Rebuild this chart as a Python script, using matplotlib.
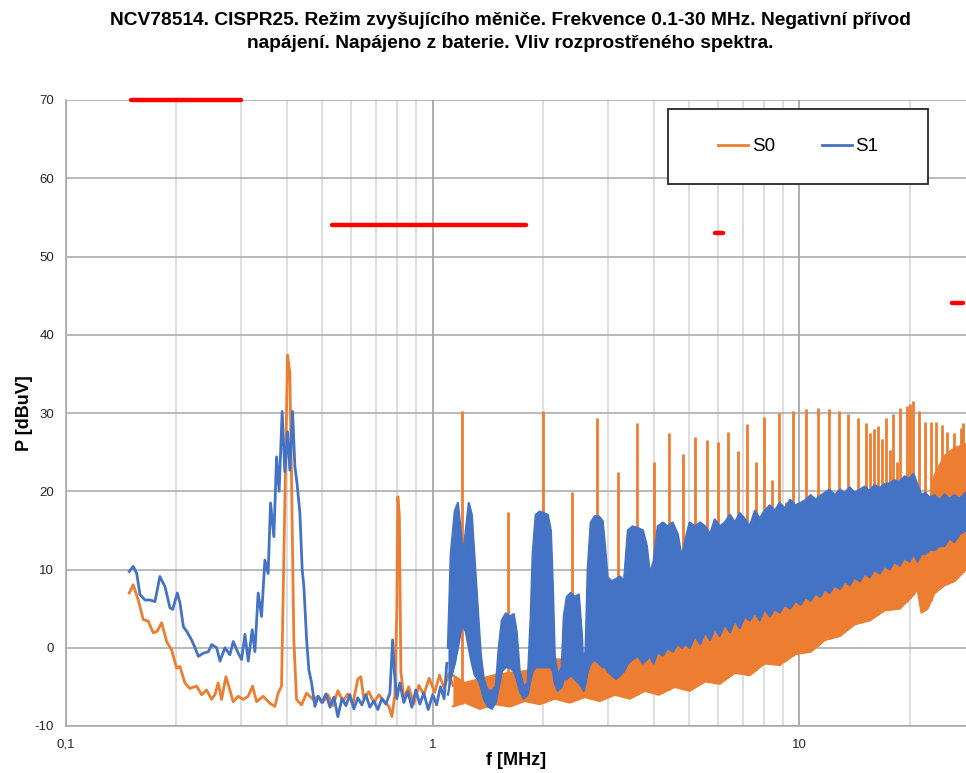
import numpy as np
import matplotlib
matplotlib.use('Agg')
import matplotlib.pyplot as plt
from matplotlib.patches import Rectangle

plt.rcParams['font.family'] = ['Liberation Sans', 'DejaVu Sans']

title = ("NCV78514. CISPR25. Režim zvyšujícího měniče. Frekvence 0.1-30 MHz. Negativní přívod\n"
         "napájení. Napájeno z baterie. Vliv rozprostřeného spektra.")
xlabel = "f [MHz]"
ylabel = "P [dBuV]"
series_names = ["S0", "S1"]

# CISPR25 limit segments
limit_f_start = [0.15, 0.53, 5.9, 26.0]
limit_f_end = [0.30, 1.8, 6.2, 28.0]
limit_level = [70, 54, 53, 44]

# S0 (orange) - traced line, low frequency part
s0_f = [0.1488, 0.1525, 0.1574, 0.1624, 0.1676, 0.1729, 0.1773, 0.1823, 0.1881, 0.1941,
        0.2003, 0.2045, 0.2110, 0.2177, 0.2271, 0.2343, 0.2418, 0.2495, 0.2547, 0.2600,
        0.2656, 0.2729, 0.2798, 0.2857, 0.2948, 0.3042, 0.3138, 0.3227, 0.3308, 0.3448,
        0.3596, 0.3711, 0.3789, 0.3870, 0.3934, 0.4019, 0.4077, 0.4121, 0.4181, 0.4252,
        0.4388, 0.4527, 0.4719, 0.4870, 0.5016, 0.5181, 0.5345, 0.5511, 0.5691, 0.5871,
        0.6055, 0.6248, 0.6366, 0.6488, 0.6693, 0.6908, 0.7133, 0.7358, 0.7592, 0.7738,
        0.7883, 0.7981, 0.8031, 0.8108, 0.8186, 0.8340, 0.8598, 0.8879, 0.9163, 0.9453,
        0.9778, 1.0123, 1.0432, 1.0741, 1.1058, 1.1345]
s0_db = [7.0, 8.05, 6.1, 3.6, 3.4, 1.9, 2.1, 3.2, 0.8, -0.3,
         -2.6, -2.4, -4.5, -5.2, -4.9, -6.0, -5.4, -6.6, -6.0, -4.5,
         -6.6, -3.7, -5.4, -6.9, -6.2, -6.6, -6.2, -4.9, -6.9, -6.2,
         -7.1, -7.5, -5.8, -4.9, 13.8, 37.4, 35.1, 21.5, 1.0, -6.6,
         -7.3, -5.8, -6.6, -6.2, -7.0, -6.0, -7.4, -5.5, -6.8, -5.9,
         -7.2, -4.0, -3.7, -6.5, -5.6, -7.0, -6.0, -6.8, -7.5, -8.8,
         -6.0, 5.0, 19.3, 17.0, -3.0, -6.5, -5.0, -7.2, -4.8, -6.0,
         -3.9, -5.7, -3.5, -5.2, -3.3, -4.8]

# S0 dense part: envelope (lower / upper) of the fast-oscillating trace
s0_band_f = [1.135, 1.223, 1.344, 1.476, 1.622, 1.781, 1.957, 2.151, 2.361, 2.595,
             2.853, 3.140, 3.445, 3.789, 4.134, 4.568, 5.017, 5.533, 6.057, 6.667,
             7.321, 8.032, 8.830, 9.747, 10.731, 11.728, 12.890, 14.131, 15.540, 17.074,
             18.750, 20.2, 20.987, 21.513, 22.332, 23.348, 24.859, 26.458, 28.4]
s0_band_lo = [-7.5, -7.0, -7.8, -7.2, -7.5, -6.8, -7.2, -6.5, -7.0, -6.3,
              -6.8, -6.0, -6.5, -5.5, -6.0, -5.0, -5.5, -4.3, -4.6, -3.2,
              -3.5, -2.0, -2.2, -0.8, -0.5, 1.0, 1.5, 3.0, 3.5, 4.8,
              5.0, 6.5, 7.5, 4.5, 5.0, 7.0, 8.0, 8.5, 10.0]
s0_band_hi = [-3.5, -4.5, -4.0, -3.5, -3.2, -3.0, -2.5, -1.5, -1.5, -1.0,
              -0.5, 0.0, 1.0, 1.5, 2.0, 3.0, 3.5, 4.5, 5.0, 5.5,
              6.5, 7.0, 7.5, 8.5, 9.0, 10.0, 11.0, 11.5, 12.5, 13.5,
              14.0, 15.0, 15.5, 14.0, 16.0, 22.0, 24.5, 25.5, 26.0]

# S0 harmonic peaks (0.4 MHz switching frequency)
s0_peak_f = [1.2, 1.6, 2.0, 2.4, 2.8, 3.2, 3.6, 4.0, 4.4, 4.8,
             5.2, 5.6, 6.0, 6.4, 6.8, 7.2, 7.6, 8.0, 8.4, 8.8,
             9.2, 9.6, 10.4, 11.2, 12.0, 12.8, 13.6, 14.4, 15.2, 15.6,
             16.0, 16.4, 16.8, 17.2, 17.6, 18.0, 18.4, 18.8, 19.6, 20.0,
             20.4, 21.2, 22.0, 22.8, 23.6, 24.4, 25.2, 26.4, 27.6, 28.0]
s0_peak_db = [30.2, 17.4, 30.2, 19.9, 29.4, 22.4, 28.7, 23.8, 27.4, 24.8,
              26.9, 26.5, 26.3, 27.6, 25.2, 28.6, 23.8, 29.5, 21.4, 30.0,
              18.6, 30.3, 30.5, 30.7, 30.5, 30.3, 29.9, 29.4, 28.7, 27.4,
              27.9, 28.4, 26.7, 29.3, 25.3, 29.9, 23.7, 30.6, 30.9, 31.1,
              31.5, 30.2, 28.8, 28.9, 28.8, 28.5, 27.6, 27.4, 28.1, 28.7]

# S1 (blue) - traced line, low frequency part
s1_f = [0.1488, 0.1525, 0.1559, 0.1591, 0.1642, 0.1694, 0.1748, 0.1803, 0.1862, 0.1921,
        0.1954, 0.2011, 0.2046, 0.2089, 0.2134, 0.2200, 0.2248, 0.2296, 0.2368, 0.2444,
        0.2497, 0.2575, 0.2629, 0.2713, 0.2798, 0.2858, 0.2949, 0.3012, 0.3076, 0.3140,
        0.3219, 0.3274, 0.3342, 0.3413, 0.3486, 0.3558, 0.3612, 0.3688, 0.3751, 0.3812,
        0.3885, 0.3951, 0.4018, 0.4078, 0.4148, 0.4208, 0.4270, 0.4343, 0.4406, 0.4453,
        0.4530, 0.4594, 0.4674, 0.4771, 0.4871, 0.4985, 0.5115, 0.5247, 0.5378, 0.5511,
        0.5655, 0.5799, 0.5942, 0.6094, 0.6248, 0.6409, 0.6571, 0.6739, 0.6908, 0.7083,
        0.7266, 0.7450, 0.7641, 0.7772, 0.7859, 0.7981, 0.8134, 0.8340, 0.8549, 0.8769,
        0.8989, 0.9221, 0.9453, 0.9722, 1.0, 1.0247, 1.0494, 1.0741, 1.0926]
s1_db = [9.75, 10.4, 9.5, 6.8, 6.1, 6.1, 5.9, 9.1, 7.8, 5.1,
         4.9, 7.0, 5.7, 2.7, 2.1, 1.0, 0.0, -1.1, -0.7, -0.5,
         0.4, 0.0, -1.7, 0.0, -0.9, 0.8, -0.7, -1.5, 1.7, -1.7,
         2.3, -0.5, 7.0, 4.0, 11.2, 9.5, 18.5, 14.2, 24.4, 20.0,
         30.2, 22.5, 27.6, 22.7, 30.2, 23.2, 20.8, 17.2, 10.0, 7.8,
         1.0, -2.8, -4.5, -7.5, -6.2, -7.0, -5.9, -7.6, -6.3, -8.8,
         -6.5, -7.4, -6.0, -7.8, -6.4, -7.3, -6.0, -7.6, -6.8, -7.9,
         -6.5, -7.2, -5.8, 1.0, -3.0, -6.5, -4.5, -7.0, -5.6, -7.6,
         -5.4, -7.2, -5.8, -7.9, -6.0, -7.3, -5.0, -6.5, -2.0]

# S1 dense (spread spectrum) part: envelope of the fast-oscillating trace
s1_band_f = [1.10, 1.120, 1.149, 1.171, 1.192, 1.207, 1.231, 1.254, 1.278, 1.302,
             1.327, 1.353, 1.378, 1.413, 1.449, 1.485, 1.514, 1.543, 1.582, 1.622,
             1.663, 1.694, 1.726, 1.770, 1.815, 1.850, 1.873, 1.909, 1.957, 2.007,
             2.059, 2.099, 2.125, 2.151, 2.191, 2.248, 2.277, 2.320, 2.378, 2.439,
             2.502, 2.548, 2.580, 2.612, 2.646, 2.697, 2.764, 2.835, 2.907, 2.962,
             2.998, 3.079, 3.161, 3.242, 3.323, 3.405, 3.507, 3.624, 3.742, 3.836,
             3.906, 4.0, 4.107, 4.241, 4.374, 4.509, 4.658, 4.777, 4.896, 5.017,
             5.189, 5.361, 5.533, 5.704, 5.876, 6.057, 6.260, 6.463, 6.667, 6.870,
             7.085, 7.321, 7.557, 7.792, 8.032, 8.298, 8.564, 8.830, 9.114, 9.430,
             9.747, 10.066, 10.399, 10.731, 11.063, 11.395, 11.728, 12.073, 12.482, 12.890,
             13.298, 13.706, 14.131, 14.601, 15.070, 15.540, 16.009, 16.543, 17.074, 17.606,
             18.155, 18.750, 19.345, 19.940, 20.461, 20.987, 21.513, 22.043, 22.623, 23.348,
             24.078, 24.859, 25.640, 26.458, 27.305, 28.4]
s1_band_lo = [-6.0, -4.0, -2.0, 0.0, 2.0, 3.0, 2.0, 0.0, -2.0, -3.5,
              -4.0, -5.0, -6.5, -7.5, -7.8, -7.0, -5.0, -3.0, -2.5, -2.5,
              -3.0, -4.0, -5.5, -6.5, -6.0, -4.0, -3.0, -2.5, -2.5, -2.5,
              -2.5, -2.5, -3.0, -4.5, -5.5, -5.0, -4.0, -4.0, -3.5, -4.0,
              -4.5, -5.0, -5.5, -4.5, -3.0, -2.0, -1.5, -2.0, -2.5, -2.5,
              -3.0, -3.5, -4.0, -3.5, -3.0, -2.0, -1.5, -1.0, -2.0, -1.5,
              -1.0, -2.0, -0.5, -1.0, 0.0, -0.5, 0.5, 0.0, 0.5, 0.0,
              1.5, 0.5, 2.0, 1.0, 2.5, 1.5, 3.0, 2.0, 3.5, 2.5,
              4.0, 3.5, 4.5, 3.5, 5.0, 4.0, 5.0, 4.5, 5.5, 5.0,
              6.0, 5.5, 6.5, 6.0, 7.0, 6.5, 7.5, 7.0, 8.0, 7.5,
              8.5, 8.0, 9.0, 8.5, 9.5, 9.0, 10.0, 9.5, 10.5, 10.0,
              11.0, 10.5, 11.5, 11.0, 12.0, 11.0, 12.0, 12.0, 12.5, 12.5,
              13.0, 13.0, 14.0, 13.5, 14.5, 15.0]
s1_band_hi = [0.0, 12.0, 17.5, 18.5, 15.0, 11.5, 15.0, 18.5, 17.0, 11.0,
              5.0, -1.0, -4.0, -5.5, -5.5, -5.0, 0.0, 3.5, 4.4, 4.0,
              4.3, 2.0, -3.0, -5.0, -4.5, 4.0, 12.0, 17.0, 17.4, 17.2,
              17.0, 15.0, 8.0, -1.0, -3.5, -2.5, 4.0, 6.5, 7.0, 6.5,
              6.8, 2.0, -3.0, 0.0, 10.0, 16.0, 16.8, 16.8, 16.2, 12.0,
              9.0, 8.5, 8.8, 9.1, 8.5, 15.0, 15.5, 15.3, 15.0, 13.0,
              9.5, 11.0, 15.5, 16.0, 15.5, 16.0, 14.5, 11.5, 14.0, 16.0,
              15.5, 16.0, 15.5, 14.5, 16.4, 15.5, 16.0, 17.0, 16.0, 17.2,
              16.5, 15.5, 17.5, 16.5, 17.5, 18.2, 17.5, 18.5, 17.8, 18.9,
              18.2, 18.5, 18.9, 19.5, 18.9, 19.4, 19.8, 20.2, 19.5, 20.2,
              19.8, 20.5, 19.8, 20.2, 20.6, 20.0, 20.8, 20.4, 20.9, 21.0,
              21.4, 21.2, 21.9, 21.6, 22.2, 20.8, 19.5, 19.8, 19.2, 19.5,
              18.8, 19.6, 19.0, 19.5, 19.0, 19.8]

ORANGE = '#ED7D31'
BLUE = '#4472C4'
RED = '#FF0000'

fig = plt.figure(figsize=(9.66, 7.73), dpi=100)
ax = fig.add_axes([66 / 966, 47 / 773, 900 / 966, 626 / 773])

ax.set_xscale('log')
ax.set_xlim(0.1, 28.45)
ax.set_ylim(-10, 70)

# grid
ax.set_axisbelow(True)
ax.set_xticks([0.1, 1, 10])
ax.set_xticklabels(['0,1', '1', '10'])
minor = [m * d for d in (0.1, 1, 10) for m in range(2, 10) if m * d < 28.45]
ax.set_xticks(minor, minor=True)
ax.set_xticklabels([], minor=True)
ax.set_yticks(range(-10, 71, 10))
ax.set_yticklabels([str(v) for v in range(-10, 71, 10)])
ax.grid(True, which='major', axis='y', color='#a6a6a6', lw=1.1)
ax.grid(True, which='major', axis='x', color='#a0a0a0', lw=1.2)
ax.grid(True, which='minor', axis='x', color='#d4d4d4', lw=1.1)
ax.tick_params(which='both', length=0, labelsize=9.5, colors='#262626')
ax.tick_params(axis='y', pad=8.5)
ax.tick_params(axis='x', pad=9)
for s in ('top', 'right'):
    ax.spines[s].set_visible(False)
for s in ('left', 'bottom'):
    ax.spines[s].set_color('#a6a6a6')
    ax.spines[s].set_linewidth(1.1)

# S0
ax.fill_between(s0_band_f, s0_band_lo, s0_band_hi, color=ORANGE, lw=0, zorder=2)
ax.plot(s0_band_f, s0_band_lo, color=ORANGE, lw=1.6, zorder=2)
ax.plot(s0_band_f, s0_band_hi, color=ORANGE, lw=1.6, zorder=2)
base = np.interp(np.log10(s0_peak_f), np.log10(s0_band_f), s0_band_lo)
ax.vlines(s0_peak_f, base, s0_peak_db, colors=ORANGE, lw=2.0, zorder=2)
l0, = ax.plot(s0_f, s0_db, color=ORANGE, lw=2.0, zorder=2, label=series_names[0])

# S1
ax.fill_between(s1_band_f, s1_band_lo, s1_band_hi, color=BLUE, lw=0, zorder=3)
ax.plot(s1_band_f, s1_band_lo, color=BLUE, lw=1.6, zorder=3)
ax.plot(s1_band_f, s1_band_hi, color=BLUE, lw=1.6, zorder=3)
l1, = ax.plot(s1_f, s1_db, color=BLUE, lw=2.0, zorder=3, label=series_names[1])

# limits
for a, b, lv in zip(limit_f_start, limit_f_end, limit_level):
    ax.plot([a, b], [lv, lv], color=RED, lw=3.2, solid_capstyle='round',
            zorder=4, clip_on=False)

# legend
box = Rectangle((0.669, 0.8658), 0.289, 0.1198, transform=ax.transAxes,
                facecolor='white', edgecolor='#262626', lw=1.3, zorder=5)
ax.add_patch(box)
leg = ax.legend(handles=[l0, l1], loc='center', bbox_to_anchor=(0.8135, 0.9257),
                frameon=False, ncol=2, fontsize=13.5, handlelength=1.6,
                handletextpad=0.2, columnspacing=2.5)
for h in leg.get_lines():
    h.set_linewidth(2.0)
leg.set_zorder(6)

ax.set_xlabel(xlabel, fontsize=13, fontweight='bold', labelpad=1)
ax.set_ylabel(ylabel, fontsize=13, fontweight='bold', labelpad=1.5)
fig.text(0.528, 1 - 12 / 773, title, ha='center', va='top', fontsize=13.8,
         fontweight='bold', linespacing=1.45)

fig.savefig('out.png', dpi=100)
